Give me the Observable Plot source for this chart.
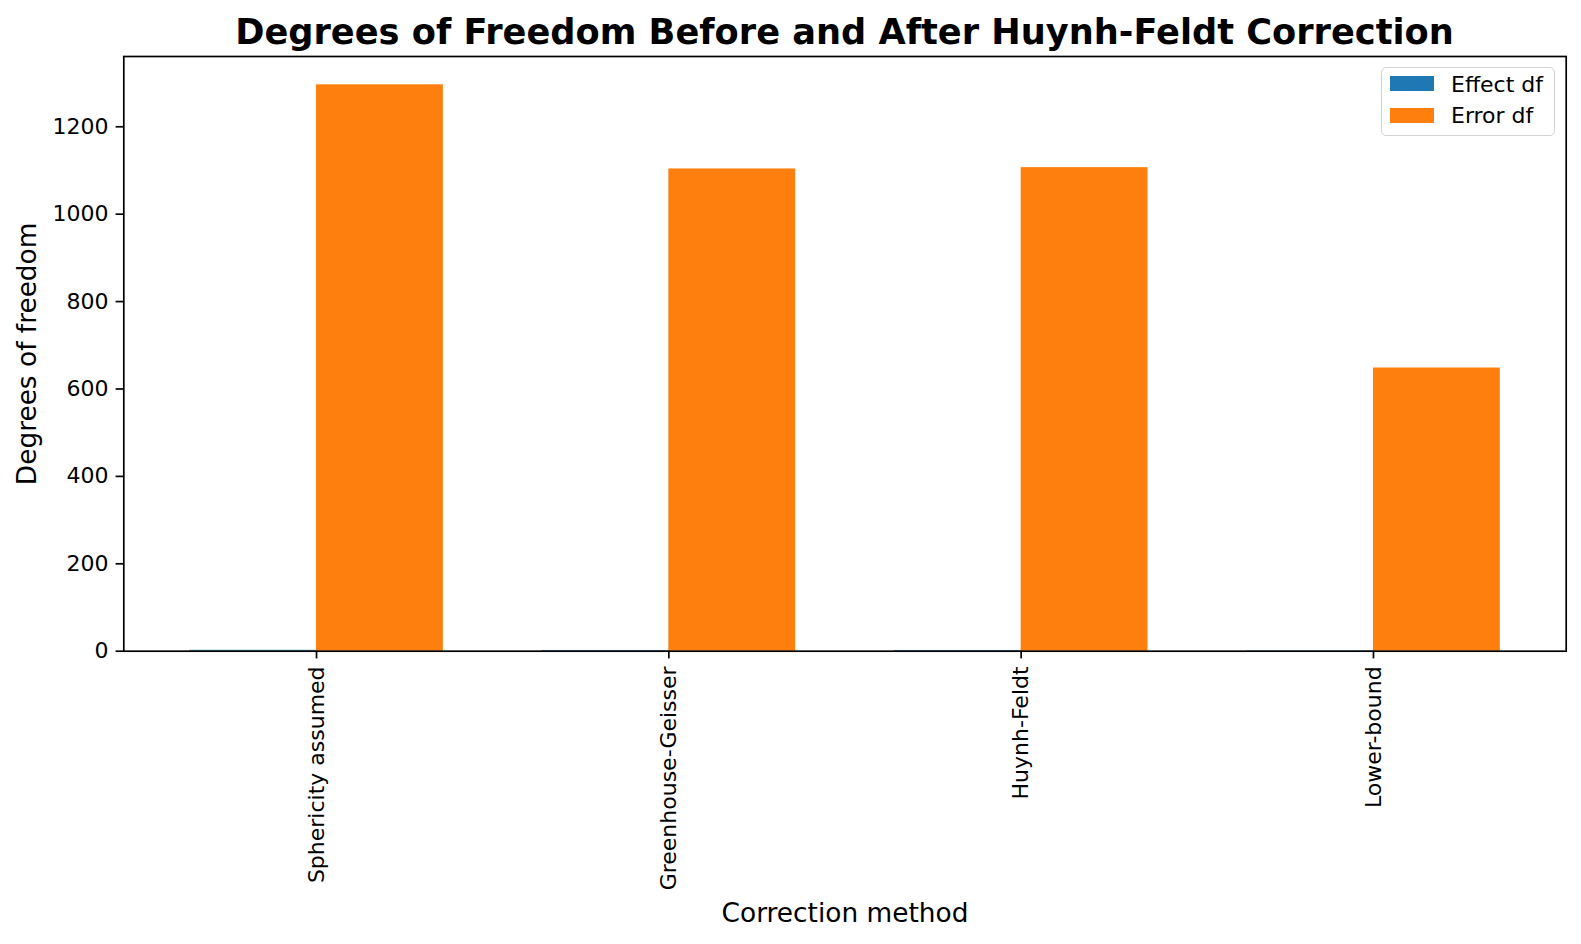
<!DOCTYPE html>
<html>
<head>
<meta charset="utf-8">
<script src="https://cdn.jsdelivr.net/npm/d3@7"></script>
<script src="https://cdn.jsdelivr.net/npm/@observablehq/plot@0.6"></script>
<style>
  html, body { margin: 0; padding: 0; background: #fff; }
  #fig { position: relative; width: 1581px; height: 944px; font-family: "DejaVu Sans", sans-serif; }
  #title { box-sizing: border-box; width: 1581px; height: 50px; padding-top: 13.5px; padding-left: 108px;
           text-align: center; font-weight: bold; font-size: 35.2px; line-height: 35px; color: #000; white-space: nowrap; }
  #legend { position: absolute; left: 1381px; top: 67px; width: 174px; height: 69px; box-sizing: border-box;
            border: 1.7px solid #d4d4d4; border-radius: 5px; background: rgba(255,255,255,0.8); }
  .sw { position: absolute; left: 7.5px; width: 44px; height: 15.4px; }
  .lt { position: absolute; left: 69px; font-size: 22px; line-height: 22px; color: #000; white-space: nowrap; }
  svg { display: block; }
</style>
</head>
<body>
<div id="fig">
  <div id="title"></div>
  <div id="chart"></div>
  <div id="legend"></div>
</div>
<script>
const titleText = "Degrees of Freedom Before and After Huynh-Feldt Correction";
const categories = ["Sphericity assumed", "Greenhouse-Geisser", "Huynh-Feldt", "Lower-bound"];
const seriesNames = ["Effect df", "Error df"];
const seriesColors = ["#1f77b4", "#ff7f0e"];
const effectDf = [2, 1.70, 1.71, 1];
const errorDf = [1296, 1103.5, 1106.5, 648];
const yTicks = [0, 200, 400, 600, 800, 1000, 1200];
const xLabel = "Correction method";
const yLabel = "Degrees of freedom";

const barW = 0.36;
const rows = categories.map((c, i) => ({i, category: c, effect: effectDf[i], error: errorDf[i]}));

document.getElementById("title").textContent = titleText;

const plot = Plot.plot({
  width: 1581,
  height: 894,
  marginTop: 6,
  marginBottom: 293.3,
  marginLeft: 123.3,
  marginRight: 15.3,
  style: {fontFamily: "DejaVu Sans, sans-serif", fontSize: "22px", color: "#000", background: "#fff"},
  x: {type: "linear", domain: [-0.547, categories.length - 1 + 0.547]},
  y: {domain: [0, 1360.8]},
  marks: [
    Plot.rectY(rows, {x1: d => d.i - barW, x2: d => d.i, y1: 0, y2: d => d.effect, fill: seriesColors[0]}),
    Plot.rectY(rows, {x1: d => d.i, x2: d => d.i + barW, y1: 0, y2: d => d.error, fill: seriesColors[1]}),
    Plot.axisY({ticks: yTicks, tickFormat: d => String(d), tickSize: 7.7, tickPadding: 7.5, strokeWidth: 1.7, label: null, fontSize: 22}),
    Plot.axisX({ticks: rows.map(d => d.i), tickFormat: i => categories[i], tickRotate: -90,
                tickSize: 7.7, tickPadding: 7.5, strokeWidth: 1.7, label: null, fontSize: 22}),
    Plot.frame({stroke: "#000", strokeWidth: 1.7}),
    Plot.text([yLabel], {frameAnchor: "left", dx: -96, rotate: -90, textAnchor: "middle", fontSize: 26.4, fill: "#000"}),
    Plot.text([xLabel], {frameAnchor: "bottom", dy: 271, textAnchor: "middle", fontSize: 26.4, fill: "#000"})
  ]
});
document.getElementById("chart").appendChild(plot);

const legend = document.getElementById("legend");
const swTops = [8, 40];
const txtTops = [5.5, 37];
seriesNames.forEach((name, k) => {
  const sw = document.createElement("div");
  sw.className = "sw";
  sw.style.top = swTops[k] + "px";
  sw.style.background = seriesColors[k];
  legend.appendChild(sw);
  const t = document.createElement("div");
  t.className = "lt";
  t.style.top = txtTops[k] + "px";
  t.textContent = name;
  legend.appendChild(t);
});
</script>
</body>
</html>
